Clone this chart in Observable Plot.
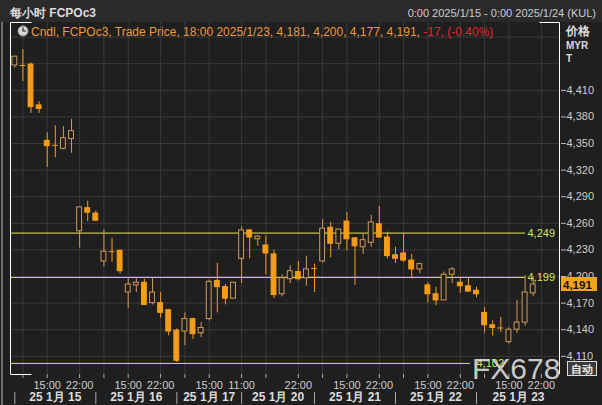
<!DOCTYPE html>
<html><head><meta charset="utf-8">
<script src="https://cdn.jsdelivr.net/npm/d3@7"></script>
<script src="https://cdn.jsdelivr.net/npm/@observablehq/plot@0.6"></script>
<style>
html,body{margin:0;padding:0;background:#1f1f1f;}
#chart{width:602px;height:405px;overflow:hidden;}
svg{display:block;}
</style></head>
<body><div id="chart"></div>
<script>
// ---- data (hourly candles, FCPOc3, 15-23 Jan 2025) ----
const openP  = [4438,4438,4439,4393,4353,4348,4344,4355,4251,4277,
                4271,4217,4228,4229,4182,4190,4193,4170,4170,4162,
                4139,4138,4152,4136,4152,4195,4188,4175,
                4220,4252,4242,4235,4225,4180,4197,4205,4198,
                4209,4217,4255,4237,4262,4243,4233,4238,4259,4244,
                4224,4226,4218,4208,4190,4180,4173,4202,4193,4189,
                4184,4159,4145,4142,4126,4140,4148,4181];
const highP  = [4448,4456,4441,4397,4362,4370,4369,4377,4278,4285,
                4274,4253,4243,4230,4199,4199,4197,4198,4182,4163,
                4141,4159,4153,4148,4196,4215,4191,4193,
                4256,4253,4246,4246,4230,4202,4212,4217,4223,
                4214,4264,4261,4253,4272,4244,4248,4269,4279,4250,
                4233,4248,4225,4215,4193,4188,4205,4210,4199,4198,
                4188,4165,4150,4154,4142,4173,4201,4200];
const lowP   = [4435,4420,4384,4384,4323,4334,4343,4339,4232,4262,
                4262,4211,4216,4203,4164,4182,4168,4168,4153,4133,
                4103,4122,4129,4131,4150,4159,4168,4175,
                4192,4220,4234,4202,4175,4177,4192,4195,4189,
                4182,4215,4221,4230,4229,4190,4225,4233,4243,4220,
                4215,4216,4197,4203,4170,4167,4173,4192,4181,4182,
                4176,4136,4133,4137,4124,4136,4144,4177];
const closeP = [4448,4438,4391,4389,4347,4348,4356,4364,4278,4272,
                4263,4228,4228,4206,4191,4193,4168,4182,4159,4138,
                4105,4152,4135,4142,4194,4188,4175,4193,
                4252,4244,4245,4226,4179,4198,4206,4197,4208,
                4209,4254,4237,4253,4242,4234,4241,4261,4244,4223,
                4220,4218,4208,4214,4180,4173,4202,4208,4189,4183,
                4180,4145,4142,4142,4140,4148,4182,4191];

const dayStartIdx = [0,10,20,28,37,47,57];
const dayLabels   = ["25 1月 15","25 1月 16","25 1月 17","25 1月 20","25 1月 21","25 1月 22","25 1月 23"];
const gridIdx      = [1,4,8,11,14,18,21,24,28,31,35,38,41,45,48,51,55,58,61,65];
const timeTickIdx  = [4,8,14,18,24,28,35,41,45,51,55,61,65];
const timeTickLabels = ["15:00","22:00","15:00","22:00","15:00","11:00","22:00","15:00","22:00","15:00","22:00","15:00","22:00"];
const yTickValues = [4110,4140,4170,4200,4230,4260,4290,4320,4350,4380,4410];
const yGridValues = [4110,4140,4170,4200,4230,4260,4290,4320,4350,4380,4410,4440,4470];
const levelValues = [4249,4199];
const lowLevelValues = [4102];
const lastClose = 4191;
const headerLeft = "每小时 FCPOc3";
const headerRight = "0:00 2025/1/15 - 0:00 2025/1/24 (KUL)";
const legendMain = "Cndl, FCPOc3, Trade Price, 18:00 2025/1/23, 4,181, 4,200, 4,177, 4,191, ";
const legendChange = "-17, (-0.40%)";

// ---- styling ----
const BG = "#1f1f1f", GRID = "#3a3a3a", UP = "#cf9a58", DOWN = "#f59d1a", YEL = "#e4e84a";
const W = 602, H = 405, mL = 11, mR = 42, mT = 22, mB = 31;
const xDomain = [-0.41, 67.37];

const candles = openP.map((o, i) => ({i, o, h: highP[i], l: lowP[i], c: closeP[i]}));
const bodies = candles.filter(d => d.o !== d.c);
const dojis = candles.filter(d => d.o === d.c);
const colorOf = d => d.c > d.o ? UP : DOWN;
const timeLabelByIdx = new Map(timeTickIdx.map((d, k) => [d, timeTickLabels[k]]));
const days = dayStartIdx.map((s, k) => ({s, e: k + 1 < dayStartIdx.length ? dayStartIdx[k + 1] : xDomain[1], label: dayLabels[k]}));
const fmt = d3.format(",");

const plot = Plot.plot({
  width: W, height: H,
  marginLeft: mL, marginRight: mR, marginTop: mT, marginBottom: mB,
  style: {background: BG, color: "#cccccc", fontFamily: "'Liberation Sans', Arial, sans-serif", fontSize: "11px"},
  x: {domain: xDomain, axis: null},
  y: {domain: [4089.5, 4486.5], axis: null},
  color: {type: "identity"},
  marks: [
    Plot.gridY(yGridValues, {stroke: GRID, strokeOpacity: 1}),
    Plot.gridX(gridIdx, {stroke: GRID, strokeOpacity: 1}),
    Plot.ruleY(levelValues, {stroke: YEL, insetRight: 35}),
    Plot.ruleY(lowLevelValues, {stroke: YEL, insetRight: 90}),
    Plot.text(levelValues, {y: d => d, text: d => fmt(d), frameAnchor: "right", dx: -33, textAnchor: "start", fill: "#d9e45a", fontSize: 11}),
    Plot.text(lowLevelValues, {y: d => d, text: d => fmt(d), frameAnchor: "right", dx: -84, textAnchor: "start", fill: "#d9e45a", fontSize: 11}),
    Plot.ruleX(candles, {x: "i", y1: "l", y2: "h", stroke: colorOf}),
    Plot.rect(bodies, {x1: d => d.i - 0.3, x2: d => d.i + 0.3, y1: "o", y2: "c",
      fill: d => d.c > d.o ? BG : DOWN, stroke: colorOf}),
    Plot.ruleY(dojis, {y: "c", x1: d => d.i - 0.35, x2: d => d.i + 0.35, stroke: DOWN}),
    Plot.axisY(yTickValues, {anchor: "right", tickSize: 5, tickPadding: 1, tickFormat: fmt, stroke: "#bbbbbb", fill: "#cccccc", fontSize: 11, label: null}),
    Plot.axisX(gridIdx, {anchor: "bottom", tickSize: 4, tickFormat: () => "", stroke: "#aaaaaa", label: null}),
    Plot.axisX(timeTickIdx, {anchor: "bottom", tickSize: 0, tickPadding: 7, tickFormat: d => timeLabelByIdx.get(d), fill: "#cccccc", fontSize: 11, label: null}),
    Plot.ruleX(dayStartIdx, {insetTop: 340, dy: 30, stroke: "#aaaaaa"}),
    Plot.text(days, {x: d => (d.s + d.e) / 2, text: "label", frameAnchor: "bottom", dy: 23, lineAnchor: "middle", fill: "#dddddd", fontWeight: "bold", fontSize: 12})
  ]
});

const svg = d3.select(plot);
const yS = plot.scale("y");
// header band behind everything
svg.insert("rect", ":first-child").attr("x", 0).attr("y", 0).attr("width", W).attr("height", mT).attr("fill", "#2a2a2a");
svg.insert("rect", ":first-child").attr("x", 0).attr("y", 0).attr("width", W).attr("height", H).attr("fill", BG);

const deco = svg.append("g").attr("font-family", "'Liberation Sans', Arial, sans-serif").attr("text-anchor", "start");
// window edge + frame lines
deco.append("rect").attr("x", 1).attr("y", mT).attr("width", 2).attr("height", H - mT).attr("fill", "#6e6e6e");
const L = mL - 0.5, R = W - mR - 0.5, T = mT + 0.5, B = H - mB + 0.5;
[[L, T, L, H - mB], [R, T, R, H - mB], [L, T, L + 21, T], [R - 20, T, R, T], [L, B, L + 21, B]].forEach(([x1, y1, x2, y2]) =>
  deco.append("line").attr("x1", x1).attr("y1", y1).attr("x2", x2).attr("y2", y2).attr("stroke", "#ffffff"));

// header texts
deco.append("text").attr("x", 10).attr("y", 17).attr("fill", "#dddddd").attr("font-weight", "bold").attr("font-size", 12).text(headerLeft);
deco.append("text").attr("x", 596).attr("y", 17).attr("text-anchor", "end").attr("fill", "#cccccc").attr("font-size", 11).text(headerRight);

// legend line
deco.append("circle").attr("cx", 23).attr("cy", 31).attr("r", 5).attr("fill", "#d8d8d8").attr("stroke", "#999");
deco.append("path").attr("d", "M23,27.5V31H26").attr("stroke", "#222").attr("fill", "none").attr("stroke-width", 1.2);
const lg = deco.append("text").attr("x", 31).attr("y", 36).attr("font-size", 12);
lg.append("tspan").attr("fill", "#ec9a3a").text(legendMain);
lg.append("tspan").attr("fill", "#e02a2a").text(legendChange);

// axis unit header
deco.append("text").attr("x", 566).attr("y", 35).attr("fill", "#dddddd").attr("font-weight", "bold").attr("font-size", 12).text("价格");
deco.append("text").attr("x", 566).attr("y", 49).attr("fill", "#dddddd").attr("font-weight", "bold").attr("font-size", 10).text("MYR");
deco.append("text").attr("x", 566).attr("y", 62).attr("fill", "#dddddd").attr("font-weight", "bold").attr("font-size", 10).text("T");

// last price box
const yc = yS.apply(lastClose);
deco.append("rect").attr("x", 561).attr("y", yc - 7).attr("width", 36).attr("height", 14).attr("fill", "#f7a21c");
deco.append("text").attr("x", 563).attr("y", yc + 4.5).attr("fill", "#111").attr("font-weight", "bold").attr("font-size", 11.5).text(fmt(lastClose));

// watermark + auto button
deco.append("text").attr("x", 472).attr("y", 379).attr("fill", "#e8e8e8").attr("fill-opacity", 0.85)
  .attr("font-family", "'Liberation Sans', Arial, sans-serif").attr("font-size", 30).text("FX678");
deco.append("rect").attr("x", 567.5).attr("y", 361.5).attr("width", 29).attr("height", 14).attr("fill", "#3a3a3a").attr("stroke", "#dddddd");
deco.append("text").attr("x", 582).attr("y", 373).attr("text-anchor", "middle").attr("fill", "#eeeeee").attr("font-weight", "bold").attr("font-size", 11).text("自动");

document.getElementById("chart").appendChild(plot);
</script>
</body></html>
